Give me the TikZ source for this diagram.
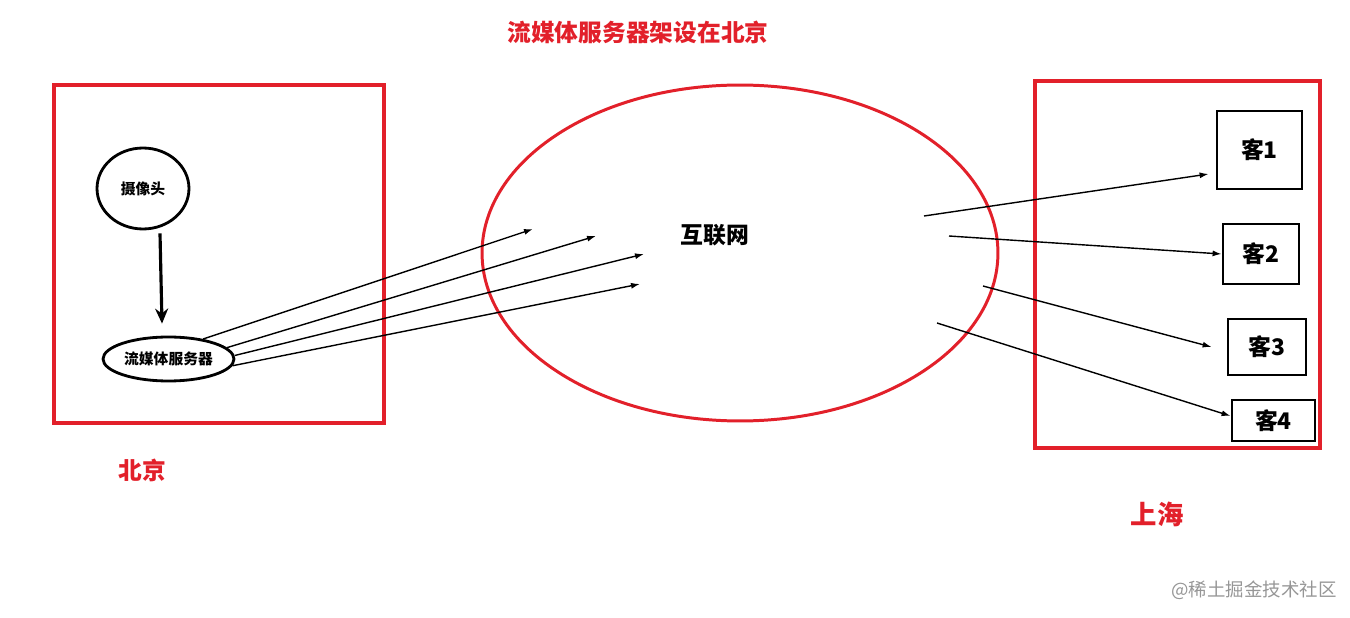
\documentclass[tikz,border=0pt]{standalone}
\usepackage{fontspec}
\setmainfont{Noto Sans CJK SC}
\definecolor{boxred}{RGB}{226,32,42}
\definecolor{markgray}{RGB}{150,150,150}
\usetikzlibrary{arrows.meta,shapes,positioning}
\tikzset{
	region/.style={
		draw=boxred,
		line width=2.2pt
	},
	net/.style={
		ellipse,
		draw=boxred,
		line width=1.7pt,
		minimum width=10.32cm,
		minimum height=6.72cm,
		inner sep=0pt
	},
	station/.style={
		ellipse,
		draw=black,
		line width=1.6pt,
		inner sep=0pt,
		font=\bfseries\fontsize{8.4}{10}\selectfont
	},
	client/.style={
		rectangle,
		draw=black,
		line width=1.6pt,
		inner sep=0pt,
		font=\bfseries\fontsize{13}{15}\selectfont
	},
	arrow/.style={
		draw=black,
		line width=0.8pt,
		-{Latex[length=1.8mm,width=1.2mm]}
	},
	bigarrow/.style={
		draw=black,
		line width=1.8pt,
		-{Stealth[length=3mm,width=2.6mm]}
	},
	caption/.style={
		text=boxred,
		font=\bfseries\fontsize{13.5}{16}\selectfont
	},
}
\begin{document}
\begin{tikzpicture}[x=0.02cm,y=-0.02cm]
\useasboundingbox (0,0) rectangle (1350,618);
% regions
\draw[region] (54,85) rectangle (384,423);
\draw[region] (1035,81) rectangle (1320,448);
\node[caption] (title) at (638,32) {流媒体服务器架设在北京};
\node[caption] (bj) at (142,470) {北京};
\node[caption, font=\bfseries\fontsize{15}{18}\selectfont] (sh) at (1157,514) {上海};
% beijing side
\node[station, minimum width=1.84cm, minimum height=1.62cm] (cam) at (143,188.5) {摄像头};
\node[station, minimum width=2.62cm, minimum height=0.88cm] (server) at (168.5,359) {流媒体服务器};
\draw[bigarrow] ([xshift=0.34cm,yshift=-0.06cm]cam.south) -- ([xshift=-0.13cm,yshift=0.24cm]server.north);
% internet
\node[net] (net) at (740,253) {};
\node[font=\bfseries\fontsize{13}{15}\selectfont] (netlabel) at (715,235) {互联网};
\coordinate (n1) at (533,229);
\coordinate (n2) at (596,236);
\coordinate (n3) at (644,254);
\coordinate (n4) at (640,284);
\foreach \a/\n in {30/n1,11/n2,3/n3,-6/n4}
	\draw[arrow] (server.\a) -- (\n);
% shanghai side
\node[client, minimum width=1.7cm, minimum height=1.56cm] (k1) at (1259.5,150) {客1};
\node[client, minimum width=1.52cm, minimum height=1.2cm] (k2) at (1261,254) {客2};
\node[client, minimum width=1.56cm, minimum height=1.12cm] (k3) at (1267,347) {客3};
\node[client, minimum width=1.66cm, minimum height=0.82cm] (k4) at (1273.5,420.5) {客4};
\coordinate (c1) at (924,216);
\coordinate (c2) at (949,236);
\coordinate (c3) at (983,286);
\coordinate (c4) at (937,323);
\draw[arrow] (c1) -- ([xshift=-0.14cm,yshift=-0.48cm]k1.west);
\draw[arrow] (c2) -- (k2.west);
\draw[arrow] (c3) -- ([xshift=-0.3cm]k3.west);
\draw[arrow] (c4) -- ([yshift=0.09cm]k4.west);
\node[text=markgray, font=\fontsize{10.5}{12}\selectfont] (mark) at (1254,590) {@稀土掘金技术社区};
\end{tikzpicture}
\end{document}
